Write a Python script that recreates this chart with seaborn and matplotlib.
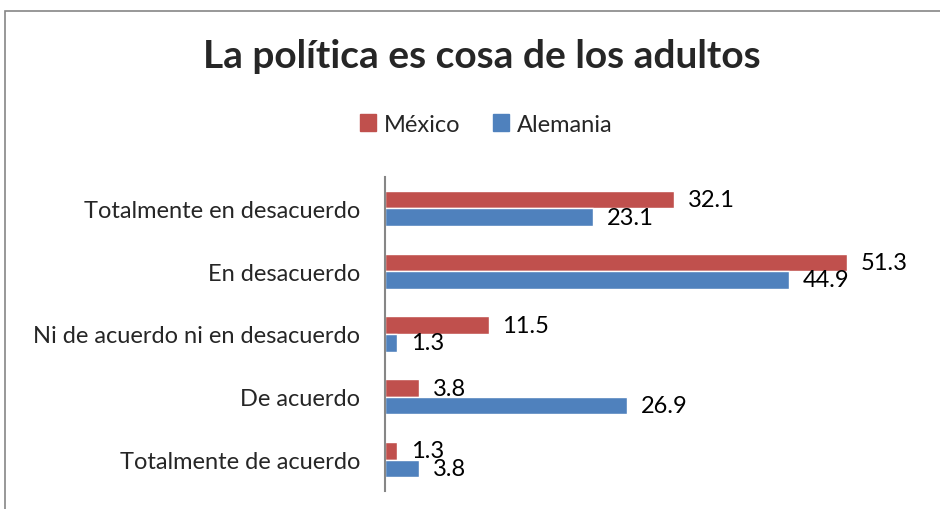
import matplotlib
matplotlib.use("Agg")
import matplotlib.pyplot as plt
import seaborn as sns
import pandas as pd
from matplotlib.patches import Rectangle

categories = ["Totalmente en desacuerdo", "En desacuerdo", "Ni de acuerdo ni en desacuerdo",
              "De acuerdo", "Totalmente de acuerdo"]
mexico = [32.1, 51.3, 11.5, 3.8, 1.3]
alemania = [23.1, 44.9, 1.3, 26.9, 3.8]
series = ["México", "Alemania"]
colors = ["#C0504D", "#4F81BD"]

df = pd.DataFrame({
    "categoria": categories * 2,
    "valor": mexico + alemania,
    "pais": [series[0]] * len(categories) + [series[1]] * len(categories),
})

sns.set_style("white")
plt.rcParams["font.family"] = ["Lato", "DejaVu Sans"]

fig = plt.figure(figsize=(9.4, 5.1), dpi=100)
ax = fig.add_axes([385 / 940, 1 - 492 / 510, 540 / 940, 314 / 510])

sns.barplot(data=df, y="categoria", x="valor", hue="pais", order=categories,
            hue_order=series, palette=colors, saturation=1, orient="h", width=0.56,
            edgecolor="white", linewidth=1.0, ax=ax, legend=False)

for cont in ax.containers:
    ax.bar_label(cont, fmt="%.1f", padding=10, fontsize=17, color="black")

ax.set_xlim(0, 60)
ax.set_ylim(len(categories) - 0.5, -0.5)
ax.set_xlabel("")
ax.set_ylabel("")
ax.set_xticks([])
ax.tick_params(axis="y", length=0, labelsize=17, pad=18)
for s in ["top", "right", "bottom"]:
    ax.spines[s].set_visible(False)
ax.spines["left"].set_color("#868686")
ax.spines["left"].set_linewidth(1.5)

fig.text(0.513, 1 - 57 / 510, "La política es cosa de los adultos", ha="center", va="center",
         fontsize=28, fontweight="bold")

handles = [Rectangle((0, 0), 1, 1, color=c) for c in colors]
fig.legend(handles, series, loc="center", bbox_to_anchor=(486 / 940, 1 - 125 / 510), ncol=2,
           frameon=False, fontsize=17, handlelength=0.7, handleheight=0.7,
           handletextpad=0.3, columnspacing=1.4)

# chart frame
fig.add_artist(Rectangle((5 / 940, -0.1), 1.2, 1 - 12 / 510 + 0.1, transform=fig.transFigure,
                         fill=False, edgecolor="#868686", linewidth=1.2))

fig.savefig("out.png", dpi=100)
